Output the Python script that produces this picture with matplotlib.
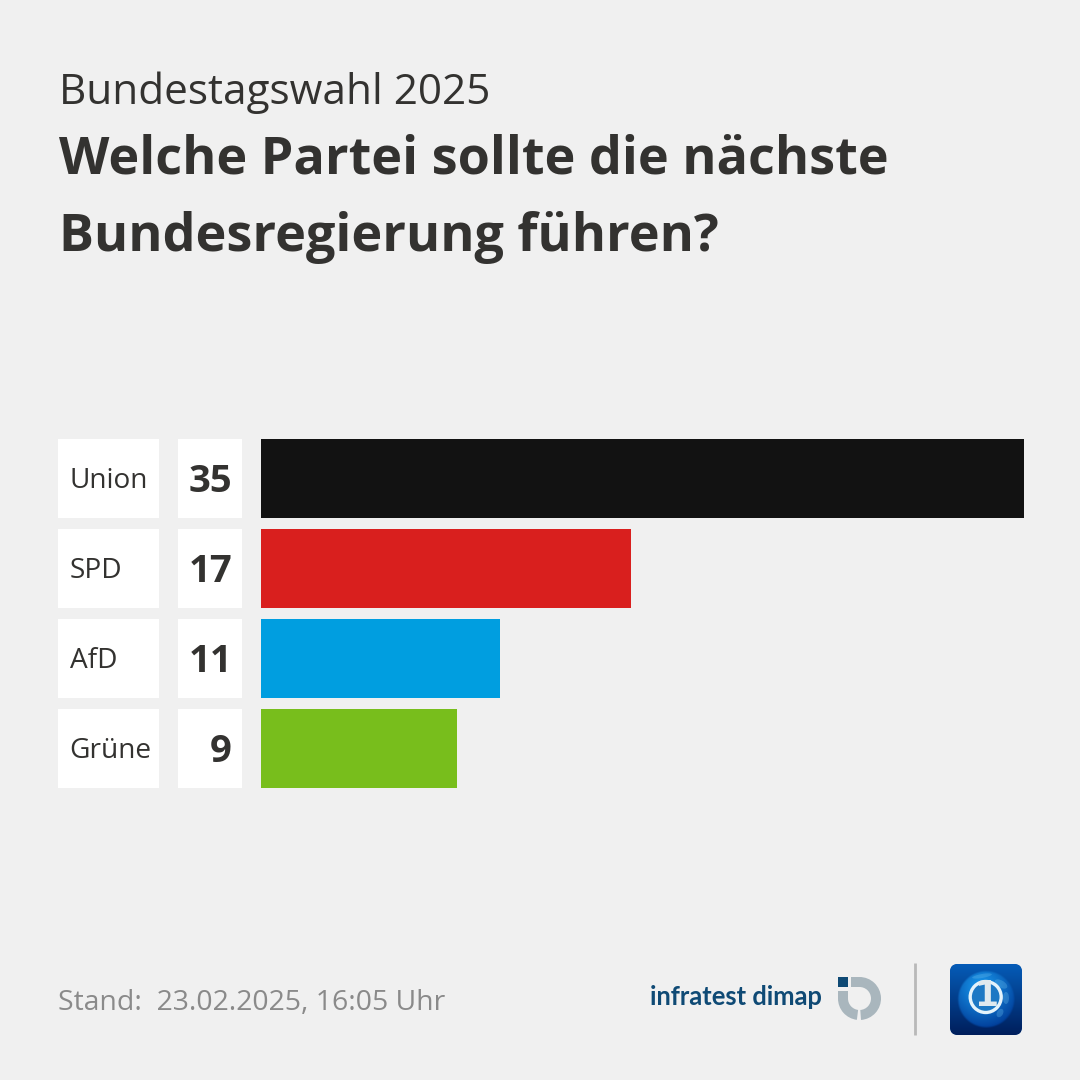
import numpy as np
import matplotlib
matplotlib.use("Agg")
import matplotlib.pyplot as plt
from matplotlib.patches import Rectangle, Wedge, Circle, Ellipse, FancyBboxPatch

parties = ["Union", "SPD", "AfD", "Grüne"]
values = [35, 17, 11, 9]
colors = ["#121212", "#d91f1e", "#009ee0", "#78be1c"]
kicker = "Bundestagswahl 2025"
title_lines = ["Welche Partei sollte die nächste", "Bundesregierung führen?"]
footer = "Stand:  23.02.2025, 16:05 Uhr"
institute = "infratest dimap"

BG = "#f0f0f0"
DARK = "#333230"
FONT = "Open Sans"

fig = plt.figure(figsize=(10.8, 10.8), dpi=100, facecolor=BG)
px = fig.add_axes([0, 0, 1, 1], zorder=1)
px.set_xlim(0, 1080); px.set_ylim(1080, 0); px.axis("off")

top, bottom, left, right = 439, 788, 260.51, 1024
ax = fig.add_axes([left/1080, 1-bottom/1080, (right-left)/1080, (bottom-top)/1080], zorder=2)
h = 79/90
ypos = np.arange(len(parties))
ax.barh(ypos, values, height=h, color=colors, linewidth=0)
ax.set_xlim(0, 35); ax.set_ylim(len(parties)-1+h/2, -h/2); ax.axis("off")

for i, (p, v) in enumerate(zip(parties, values)):
    y0 = top + 90*i
    px.add_patch(Rectangle((58, y0), 101, 79, fc="white", ec="none"))
    px.add_patch(Rectangle((178, y0), 64, 79, fc="white", ec="none"))
    px.text(69.5, y0+42, p, family=FONT, fontsize=20.2, color=DARK, va="center", ha="left")
    px.text(232, y0+42.5, str(v), family=FONT, fontsize=27.5, fontweight="bold", color=DARK, va="center", ha="right")

px.text(59, 93, kicker, family=FONT, fontsize=30.4, color=DARK, va="center", ha="left")
px.text(59, 160, title_lines[0], family=FONT, fontsize=37.5, fontweight="bold", color=DARK, va="center", ha="left")
px.text(59, 238, title_lines[1], family=FONT, fontsize=37.5, fontweight="bold", color=DARK, va="center", ha="left")

px.text(58, 1003, footer, family=FONT, fontsize=20.4, color="#8a8a8a", va="center", ha="left")
px.text(650, 997, institute, family="Lato", fontsize=18.4, color="#0f4a75", va="center", ha="left", fontweight="bold")

# infratest dimap mark
c = (859.5, 998.5)
GRAY = "#a9b6bd"
px.add_patch(Wedge(c, 21.5, -90, 86, width=10, fc=GRAY, ec="none"))
px.add_patch(Rectangle((851, 977), 8.5, 10, fc=GRAY, ec="none"))
px.add_patch(Wedge(c, 21.5, 97, 180, width=10, fc=GRAY, ec="none"))
px.add_patch(Rectangle((838, 991), 10, 7.5, fc=GRAY, ec="none"))
px.add_patch(Rectangle((838, 977), 10, 9.5, fc="#0f4a75", ec="none"))

px.plot([915, 915], [963, 1035], color="#b9b9b9", lw=2, solid_capstyle="butt")

# broadcaster logo
box = FancyBboxPatch((950, 964), 72, 71, boxstyle="round,pad=0,rounding_size=8", fc="#0a4ea0", ec="none")
px.add_patch(box)
grad = np.linspace(0, 1, 80)[:, None]
c1, c2 = np.array([0.02, 0.36, 0.72]), np.array([0.0, 0.12, 0.36])
img = (1-grad)[..., None]*c1 + grad[..., None]*c2
im = px.imshow(img, extent=(950, 1022, 1035, 964), aspect="auto", zorder=2)
im.set_clip_path(box)

n = 120
yy, xx = np.mgrid[0:n, 0:n]
rim = np.hypot(xx-n/2, yy-n/2)/(n/2)
shade = np.clip(np.hypot(xx-n*0.42, yy-n*0.30)/(n*0.75), 0, 1)
bright = np.array([0.10, 0.62, 0.95]); deep = np.array([0.0, 0.22, 0.58])
rgb = bright*(1-shade)[..., None] + deep*shade[..., None]
alpha = np.clip((1.0-rim)*14, 0, 1)
globe = np.dstack([rgb, alpha])
px.imshow(np.clip(globe, 0, 1), extent=(957, 1015, 1028, 970), aspect="auto", zorder=3)
for (ex, ey, ew, eh, ang) in [(982, 976, 20, 4, -10), (1001, 984, 14, 7, 30), (1006, 998, 6, 12, 0),
                              (1000, 1013, 6, 9, 30)]:
    px.add_patch(Ellipse((ex, ey), ew, eh, angle=ang, fc="#6fc0ee", ec="none", alpha=0.3, zorder=4))
px.add_patch(Circle((985.7, 997), 15.5, fc="#1c78c4", ec="#e4f3fb", lw=2.4, zorder=5))
px.text(986, 996, "1", family="DejaVu Sans", fontsize=25, fontweight="bold", color="#dfe9ee", ha="center", va="center", zorder=6)
px.set_xlim(0, 1080); px.set_ylim(1080, 0)

fig.savefig("out.png", dpi=100, facecolor=BG)
